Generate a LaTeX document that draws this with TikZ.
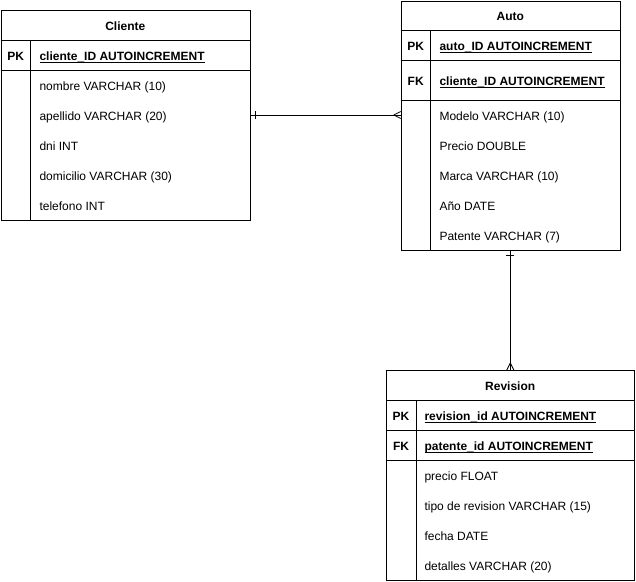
\documentclass[tikz,border=0pt]{standalone}
\usepackage{fontspec}
\setmainfont{Liberation Sans}
\newcommand{\keyul}[1]{\setbox0=\hbox{#1}\leavevmode\rlap{\vrule height -1.5pt depth 2.3pt width \wd0}\box0}
\begin{document}
\begin{tikzpicture}[x=1pt,y=-1pt,line width=1pt,
  tablebox/.style={draw,rectangle,anchor=north west,inner sep=0pt},
  hdr/.style={font=\fontsize{12}{14}\selectfont\bfseries,anchor=base,inner sep=0pt,yshift=-5pt},
  keytag/.style={font=\fontsize{12}{14}\selectfont\bfseries,anchor=base,inner sep=0pt,yshift=-5pt},
  keyname/.style={font=\fontsize{12}{14}\selectfont\bfseries,anchor=base west,inner sep=0pt,yshift=-5pt},
  field/.style={font=\fontsize{12}{14}\selectfont,anchor=base west,inner sep=0pt,yshift=-5pt},
  rel/.style={line width=0.8pt}]
\useasboundingbox (0,0) rectangle (636,581);

% ---------- Cliente ----------
\node[tablebox,minimum width=249.3pt,minimum height=210pt] (cli) at (0.7,10) {};
\draw (0.7,40) -- (250,40);
\draw (0.7,70) -- (250,70);
\draw (30.7,40) -- (30.7,220);
\node[hdr] (clih) at (125.3,25) {Cliente};
\node[keytag] (clipk) at (15.7,55) {PK};
\node[keyname] (clik) at (39,55) {\keyul{cliente\_ID AUTOINCREMENT}};
\node[field] (clif1) at (39,85) {nombre VARCHAR (10)};
\node[field] (clif2) at (39,115) {apellido VARCHAR (20)};
\node[field] (clif3) at (39,145) {dni INT};
\node[field] (clif4) at (39,175) {domicilio VARCHAR (30)};
\node[field] (clif5) at (39,205) {telefono INT};

% ---------- Auto ----------
\node[tablebox,minimum width=219.3pt,minimum height=249.3pt] (aut) at (400.7,0.7) {};
\draw (400.7,30) -- (620,30);
\draw (400.7,60) -- (620,60);
\draw (400.7,100) -- (620,100);
\draw (430.7,30) -- (430.7,250);
\node[hdr] (auth) at (510.3,15) {Auto};
\node[keytag] (autpk) at (415.7,45) {PK};
\node[keyname] (autk1) at (439,45) {\keyul{auto\_ID AUTOINCREMENT}};
\node[keytag] (autfk) at (415.7,80) {FK};
\node[keyname] (autk2) at (439,80) {\keyul{cliente\_ID AUTOINCREMENT}};
\node[field] (autf1) at (439,115) {Modelo VARCHAR (10)};
\node[field] (autf2) at (439,145) {Precio DOUBLE};
\node[field] (autf3) at (439,175) {Marca VARCHAR (10)};
\node[field] (autf4) at (439,205) {Año DATE};
\node[field] (autf5) at (439,235) {Patente VARCHAR (7)};

% ---------- Revision ----------
\node[tablebox,minimum width=248.3pt,minimum height=210.3pt] (rev) at (386,370) {};
\draw (386,400) -- (634.3,400);
\draw (386,430) -- (634.3,430);
\draw (386,460) -- (634.3,460);
\draw (416,400) -- (416,580.3);
\node[hdr] (revh) at (510.2,385) {Revision};
\node[keytag] (revpk) at (401,415) {PK};
\node[keyname] (revk1) at (424,415) {\keyul{revision\_id AUTOINCREMENT}};
\node[keytag] (revfk) at (401,445) {FK};
\node[keyname] (revk2) at (424,445) {\keyul{patente\_id AUTOINCREMENT}};
\node[field] (revf1) at (424,475) {precio FLOAT};
\node[field] (revf2) at (424,505) {tipo de revision VARCHAR (15)};
\node[field] (revf3) at (424,535) {fecha DATE};
\node[field] (revf4) at (424,565) {detalles VARCHAR (20)};

% ---------- Relations ----------
% Cliente (one) -- Auto (many)
\coordinate (c1) at (cli.east |- 0,115);
\coordinate (a1) at (aut.west |- 0,115);
\draw[rel] (c1) -- (a1);
\draw[rel] ([xshift=4pt,yshift=-4pt]c1) -- ([xshift=4pt,yshift=4pt]c1);
\draw[rel] ([xshift=-7pt]a1) -- ([yshift=-3.5pt]a1);
\draw[rel] ([xshift=-7pt]a1) -- ([yshift=3.5pt]a1);

% Auto (one) -- Revision (many)
\coordinate (a2) at (aut.south -| 510.3,0);
\coordinate (r2) at (rev.north -| 510.3,0);
\draw[rel] (a2) -- (r2);
\draw[rel] ([xshift=-4pt,yshift=-4pt]a2) -- ([xshift=4pt,yshift=-4pt]a2);
\draw[rel] ([yshift=7pt]r2) -- ([xshift=-3.5pt]r2);
\draw[rel] ([yshift=7pt]r2) -- ([xshift=3.5pt]r2);
\end{tikzpicture}
\end{document}
